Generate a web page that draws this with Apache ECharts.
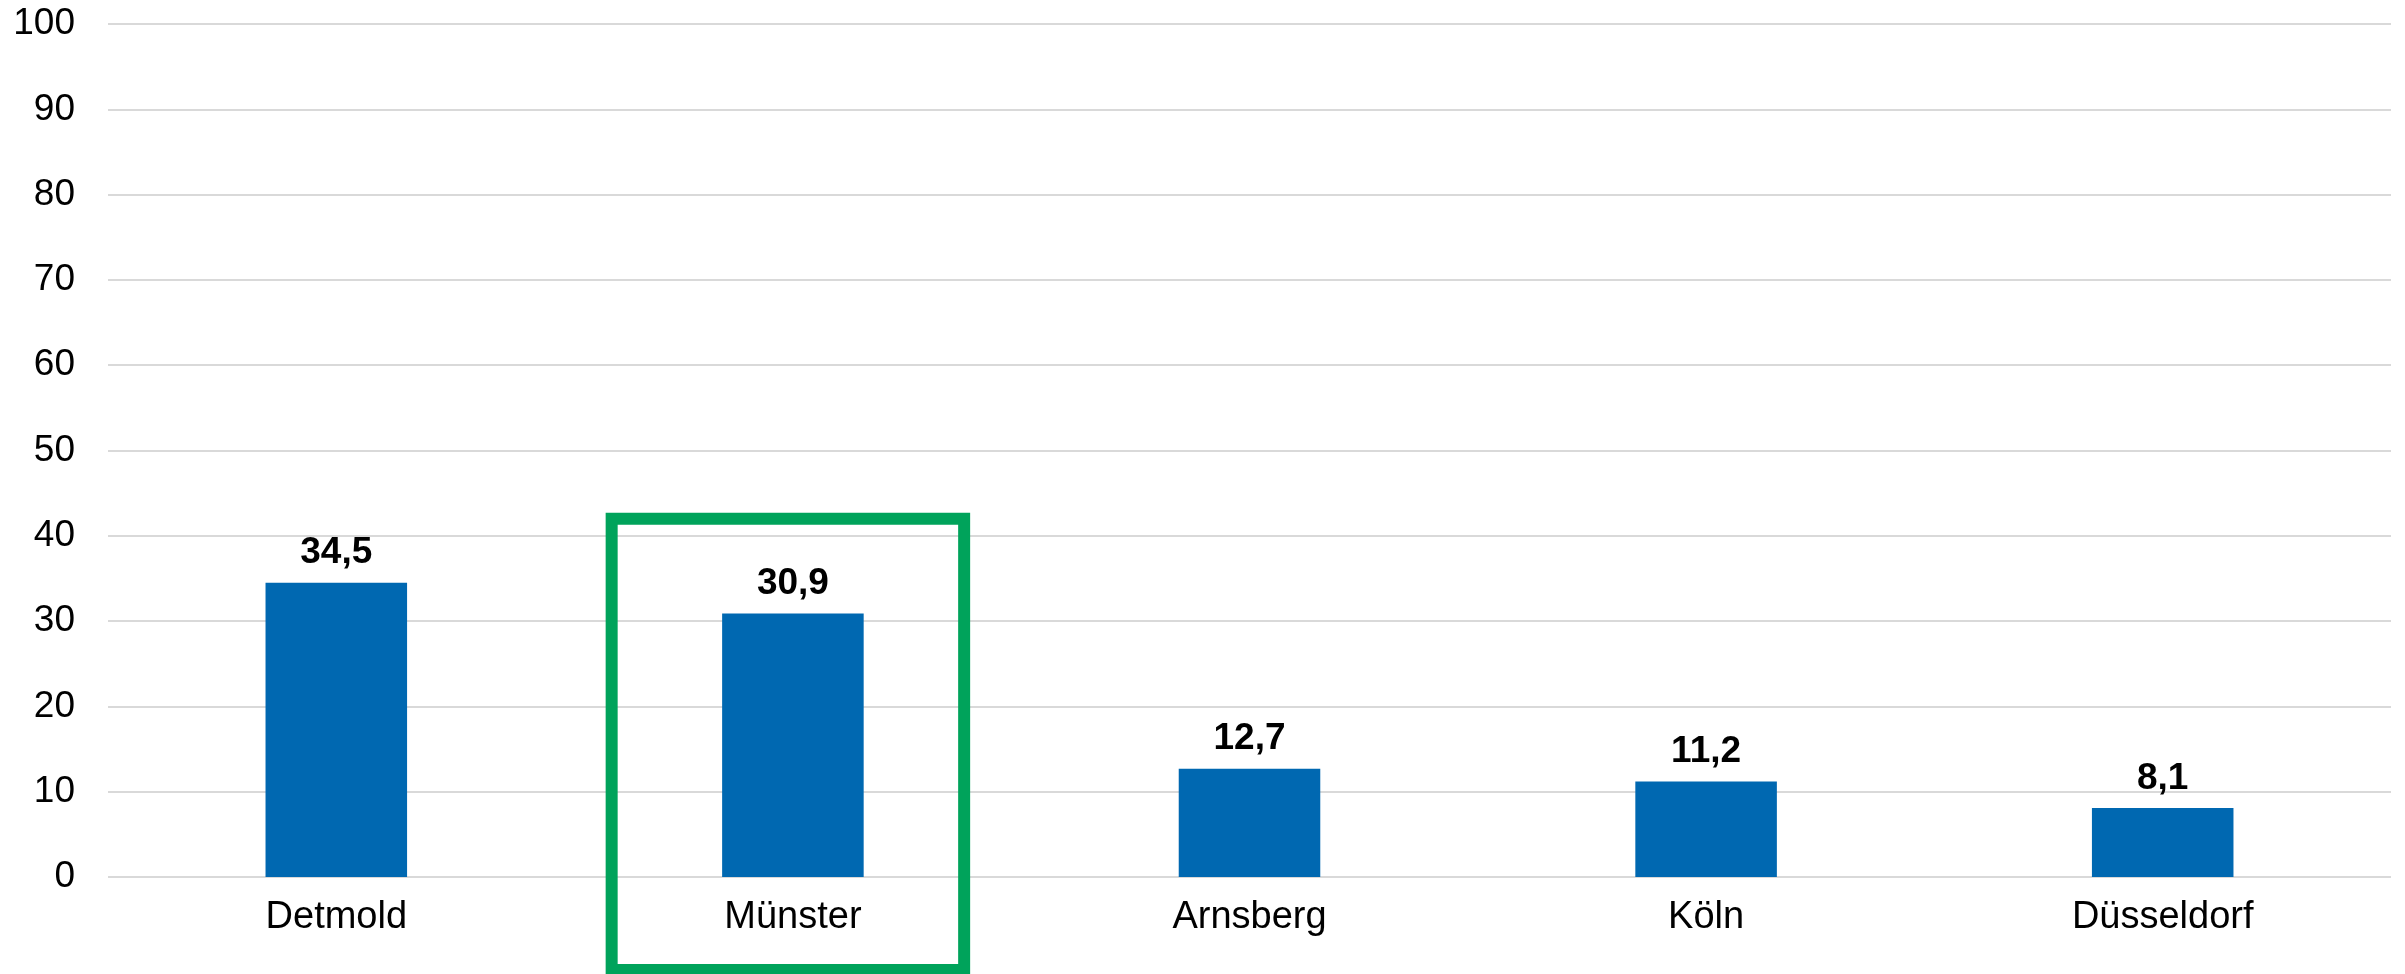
<!DOCTYPE html>
<html>
<head>
<meta charset="utf-8">
<script src="https://cdn.jsdelivr.net/npm/echarts@6/dist/echarts.min.js"></script>
<style>
  html, body { margin: 0; padding: 0; background: #fff; }
  #chart { width: 2405px; height: 974px; }
</style>
</head>
<body>
<div id="chart"></div>
<script>
// data
const regions = ['Detmold', 'Münster', 'Arnsberg', 'Köln', 'Düsseldorf']
const values = [34.5, 30.9, 12.7, 11.2, 8.1]
const highlighted = 'Münster'
// highlight box reaches up to this value
const boxTopValue = 42

const font = '"Liberation Sans", Arial, sans-serif'

let mychart = echarts.init(document.getElementById('chart'))
mychart.setOption({
  animation: false,
  grid: {
    left: 108,
    right: 14,
    top: 24,
    bottom: 97,
  },
  xAxis: {
    type: 'category',
    data: regions,
    axisLine: { show: false },
    axisTick: { show: false },
    axisLabel: {
      color: '#000',
      fontFamily: font,
      fontSize: 38,
      margin: 22,
    },
  },
  yAxis: {
    type: 'value',
    min: 0,
    max: 100,
    interval: 10,
    axisLine: { show: false },
    axisTick: { show: false },
    splitLine: {
      lineStyle: { color: '#d9d9d9', width: 2 },
    },
    axisLabel: {
      color: '#000',
      fontFamily: font,
      fontSize: 37,
      margin: 33,
    },
  },
  series: [
    {
      type: 'bar',
      data: values,
      barWidth: '31%',
      itemStyle: { color: '#0068b1' },
      label: {
        show: true,
        position: 'top',
        distance: 11,
        color: '#000',
        fontFamily: font,
        fontSize: 37,
        fontWeight: 'bold',
        formatter: (p) => String(p.value).replace('.', ','),
      },
    },
  ],
})

// green box around the highlighted category, placed through the axes
const cx = mychart.convertToPixel({ xAxisIndex: 0 }, highlighted) - 5
const band = (mychart.getWidth() - 108 - 14) / regions.length
const topY = mychart.convertToPixel({ yAxisIndex: 0 }, boxTopValue)
const half = band * 0.386
mychart.setOption({
  graphic: [
    {
      type: 'rect',
      shape: { x: cx - half, y: topY, width: half * 2, height: 970 - topY },
      style: { fill: 'none', stroke: '#00a35b', lineWidth: 12 },
      z: 10,
    },
  ],
})
</script>
</body>
</html>
